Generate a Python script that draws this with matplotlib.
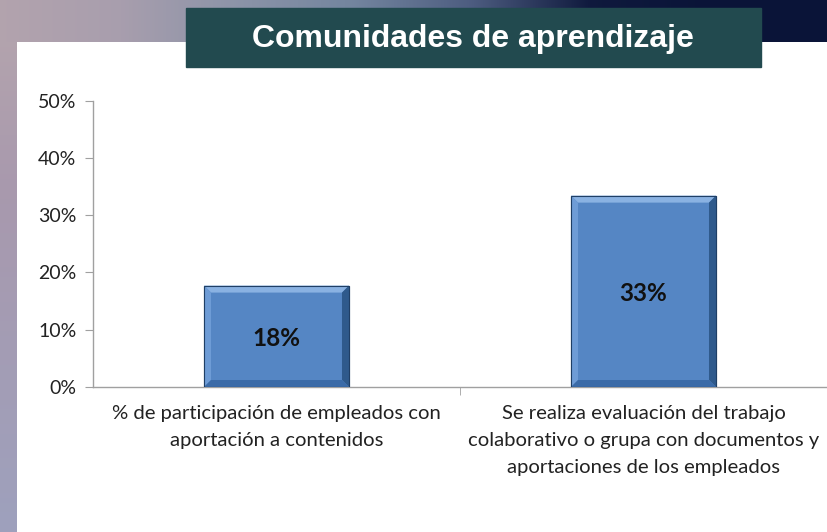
import matplotlib.pyplot as plt
import numpy as np
from matplotlib.patches import Polygon, Rectangle
from matplotlib.ticker import PercentFormatter

categorias = ['% de participación de empleados con\naportación a contenidos',
              'Se realiza evaluación del trabajo\ncolaborativo o grupa con documentos y\naportaciones de los empleados']
valores = [0.177, 0.334]
etiquetas = ['18%', '33%']
titulo = 'Comunidades de aprendizaje'

W, H = 828, 532
fig = plt.figure(figsize=(W / 100, H / 100), dpi=100, facecolor='white')

# fondo de la diapositiva: franja superior y franja izquierda
bg = fig.add_axes([0, 0, 1, 1], zorder=-10)
bg.set_xlim(0, W)
bg.set_ylim(H, 0)
bg.axis('off')
cols = np.array([[0.70, 0.64, 0.68], [0.66, 0.62, 0.68], [0.55, 0.58, 0.66],
                 [0.45, 0.52, 0.62], [0.30, 0.36, 0.50], [0.06, 0.10, 0.24],
                 [0.04, 0.08, 0.22], [0.04, 0.08, 0.22]])
xs = np.linspace(0, 1, len(cols))
xx = np.linspace(0, 1, 300)
grad = np.stack([np.interp(xx, xs, cols[:, i]) for i in range(3)], axis=-1)
bg.imshow(grad[None, :, :], extent=[0, W, 42, 0], aspect='auto')
strip = np.stack([np.interp(np.linspace(0, 1, 100), [0, 0.3, 1],
                            [c0, c1, c2]) for c0, c1, c2 in
                  zip([0.70, 0.64, 0.68], [0.66, 0.60, 0.68], [0.62, 0.63, 0.74])], axis=-1)
bg.imshow(strip[:, None, :], extent=[0, 17, H, 42], aspect='auto')
bg.add_patch(Rectangle((186, 8), 575, 59, color='#224a4f', zorder=3))
bg.text(473, 39, titulo, color='white', fontsize=23, fontweight='bold',
        family='Liberation Sans', ha='center', va='center', zorder=4)

ax = fig.add_axes([93 / W, 1 - 387 / H, (827 - 93) / W, (387 - 100.5) / H])
ax.set_facecolor('none')
x = np.arange(len(categorias))
bars = ax.bar(x, valores, width=0.395, color='#5586c4', edgecolor='#1f3f66',
              linewidth=0.8, zorder=2)
ax.set_xlim(-0.5, len(categorias) - 0.5)
ax.set_ylim(0, 0.5)
ax.set_yticks(np.arange(0, 0.51, 0.1))
ax.yaxis.set_major_formatter(PercentFormatter(1.0, decimals=0))

# bisel de las barras, calculado desde cada barra
fig.canvas.draw()
inv = ax.transData.inverted()
px_x = inv.transform((7, 0))[0] - inv.transform((0, 0))[0]
px_y = inv.transform((0, 7))[1] - inv.transform((0, 0))[1]
for b in bars:
    x0, w, h = b.get_x(), b.get_width(), b.get_height()
    x1 = x0 + w
    caras = [
        ([(x0, h), (x1, h), (x1 - px_x, h - px_y), (x0 + px_x, h - px_y)], '#8ab2e2'),
        ([(x0, 0), (x0 + px_x, px_y), (x0 + px_x, h - px_y), (x0, h)], '#6e9cd6'),
        ([(x1, 0), (x1, h), (x1 - px_x, h - px_y), (x1 - px_x, px_y)], '#2f5a8c'),
        ([(x0, 0), (x1, 0), (x1 - px_x, px_y), (x0 + px_x, px_y)], '#3b6ba8'),
    ]
    for pts, c in caras:
        ax.add_patch(Polygon(pts, closed=True, color=c, lw=0, zorder=3))
    ax.add_patch(Rectangle((x0, 0), w, h, fill=False, ec='#1f3f66', lw=0.8, zorder=4))

for xi, v, t in zip(x, valores, etiquetas):
    ax.text(xi, v / 2 - 0.004, t, ha='center', va='center', fontsize=17.5,
            fontweight='bold', family='Lato', color='#111111', zorder=5)

ax.set_xticks(x)
ax.set_xticklabels(categorias, fontsize=14.6, family='Lato', color='#222222',
                   linespacing=1.72)
ax.tick_params(axis='x', which='major', length=0, pad=13)
ax.set_xticks([0.5, 1.5], minor=True)
ax.tick_params(axis='x', which='minor', length=6, color='#a0a0a0', direction='out')
ax.tick_params(axis='y', length=6, color='#a0a0a0', labelsize=14, pad=6,
               labelcolor='#222222')
for l in ax.get_yticklabels():
    l.set_family('Lato')
for s in ['top', 'right']:
    ax.spines[s].set_visible(False)
for s in ['left', 'bottom']:
    ax.spines[s].set_color('#a0a0a0')
    ax.spines[s].set_linewidth(1)

plt.savefig('out.png', dpi=100, facecolor='white')
